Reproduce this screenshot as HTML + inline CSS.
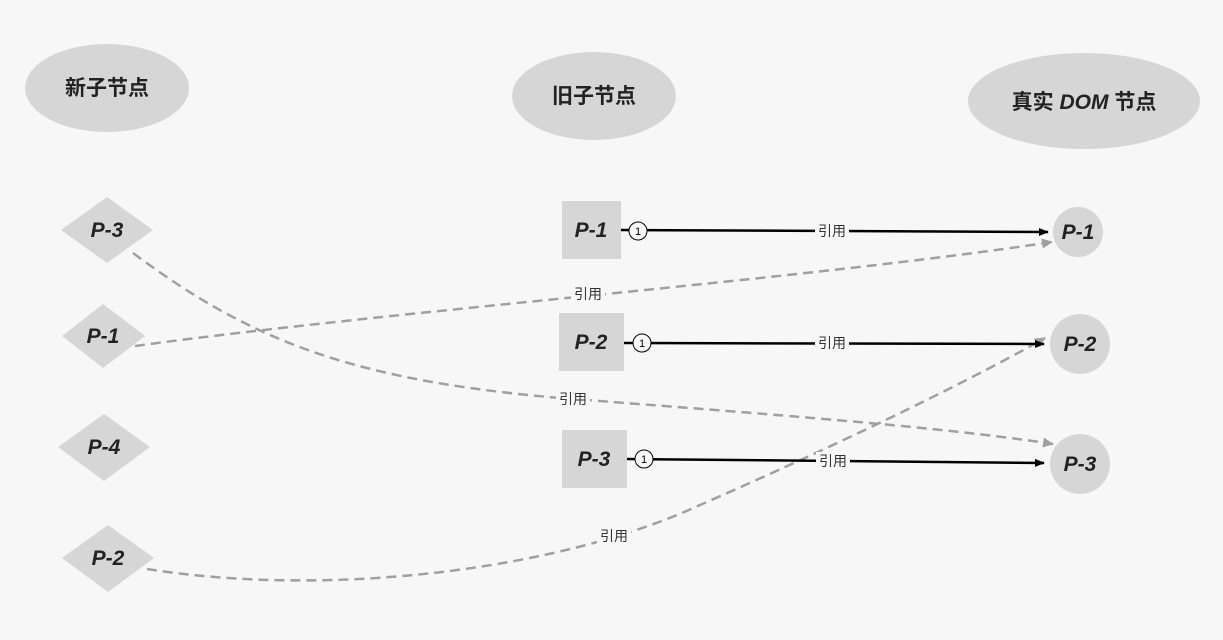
<!DOCTYPE html>
<html><head><meta charset="utf-8"><style>
html,body{margin:0;padding:0;background:#f7f7f7;}
svg{display:block}
.cj{font-family:"Liberation Sans","Noto Sans CJK SC",sans-serif;font-weight:bold;font-size:21px;fill:#222}
.p{font-family:"Liberation Sans",sans-serif;font-weight:bold;font-style:italic;font-size:21px;fill:#222}
.l{font-family:"Liberation Sans","Noto Sans CJK SC",sans-serif;font-size:14px;fill:#333}
</style></head><body>
<svg width="1223" height="640" viewBox="0 0 1223 640" xmlns="http://www.w3.org/2000/svg">
<defs>
<marker id="ab" markerWidth="10" markerHeight="10" refX="9" refY="5" orient="auto" markerUnits="userSpaceOnUse"><path d="M0,1 L10,5 L0,9 Z" fill="#000"/></marker>
<marker id="ag" markerWidth="12" markerHeight="12" refX="10" refY="6" orient="auto" markerUnits="userSpaceOnUse"><path d="M0,1 L11,6 L0,11 Z" fill="#a0a0a0"/></marker>
</defs>
<rect width="1223" height="640" fill="#f7f7f7"/>
<ellipse cx="107" cy="88" rx="82" ry="44" fill="#d6d6d6"/>
<text x="107" y="95" class="cj" text-anchor="middle">新子节点</text>
<ellipse cx="594" cy="96" rx="82" ry="44" fill="#d6d6d6"/>
<text x="594" y="103" class="cj" text-anchor="middle">旧子节点</text>
<ellipse cx="1084" cy="101" rx="116" ry="48" fill="#d6d6d6"/>
<text x="1084" y="109" class="cj" text-anchor="middle">真实 <tspan font-style="italic">DOM</tspan> 节点</text>

<polygon points="61,230 107,197 153,230 107,263" fill="#d6d6d6"/>
<text x="107" y="237" class="p" text-anchor="middle">P-3</text>
<polygon points="62,336 103,304 145,336 103,368" fill="#d6d6d6"/>
<text x="103" y="343" class="p" text-anchor="middle">P-1</text>
<polygon points="58,447 104,414 150,447 104,481" fill="#d6d6d6"/>
<text x="104" y="454" class="p" text-anchor="middle">P-4</text>
<polygon points="62,558 108,525 154,558 108,592" fill="#d6d6d6"/>
<text x="108" y="565" class="p" text-anchor="middle">P-2</text>

<rect x="562" y="201" width="59" height="58" fill="#d6d6d6"/>
<text x="591" y="237" class="p" text-anchor="middle">P-1</text>
<rect x="559" y="313" width="65" height="58" fill="#d6d6d6"/>
<text x="591" y="349" class="p" text-anchor="middle">P-2</text>
<rect x="562" y="430" width="65" height="58" fill="#d6d6d6"/>
<text x="594" y="466" class="p" text-anchor="middle">P-3</text>

<circle cx="1078" cy="232" r="25" fill="#d6d6d6"/>
<text x="1078" y="239" class="p" text-anchor="middle">P-1</text>
<circle cx="1080" cy="344" r="30" fill="#d6d6d6"/>
<text x="1080" y="351" class="p" text-anchor="middle">P-2</text>
<circle cx="1080" cy="464" r="30" fill="#d6d6d6"/>
<text x="1080" y="471" class="p" text-anchor="middle">P-3</text>

<g fill="none" stroke="#a0a0a0" stroke-width="2.5" stroke-dasharray="10,6">
<path d="M133,253 C250,340 350,380 560,398 C850,420 960,430 1053,444" marker-end="url(#ag)"/>
<path d="M135,346 C400,310 800,280 1052,242" marker-end="url(#ag)"/>
<path d="M147,569 C330,598 560,570 700,505 C860,435 980,375 1045,338" marker-end="url(#ag)"/>
</g>

<g stroke="#000" stroke-width="2.5" fill="none">
<line x1="621" y1="230" x2="1048" y2="232" marker-end="url(#ab)"/>
<line x1="624" y1="343" x2="1044" y2="344" marker-end="url(#ab)"/>
<line x1="627" y1="459" x2="1044" y2="463" marker-end="url(#ab)"/>
</g>
<g fill="#f7f7f7" stroke="#000" stroke-width="1">
<circle cx="638" cy="231" r="9"/>
<circle cx="642" cy="343" r="9"/>
<circle cx="644" cy="459" r="9"/>
</g>
<g font-family="Liberation Sans" font-size="11" text-anchor="middle">
<text x="638" y="235">1</text><text x="642" y="347">1</text><text x="644" y="463">1</text>
</g>

<g class="l" text-anchor="middle">
<rect x="815" y="222" width="34" height="18" fill="#f7f7f7"/><text x="832" y="236" class="l">引用</text>
<rect x="815" y="334" width="34" height="18" fill="#f7f7f7"/><text x="832" y="348" class="l">引用</text>
<rect x="816" y="452" width="34" height="18" fill="#f7f7f7"/><text x="833" y="466" class="l">引用</text>
<rect x="571" y="285" width="34" height="18" fill="#f7f7f7"/><text x="588" y="299" class="l">引用</text>
<rect x="556" y="390" width="34" height="18" fill="#f7f7f7"/><text x="573" y="404" class="l">引用</text>
<rect x="597" y="527" width="34" height="18" fill="#f7f7f7"/><text x="614" y="541" class="l">引用</text>
</g>
</svg>
</body></html>
